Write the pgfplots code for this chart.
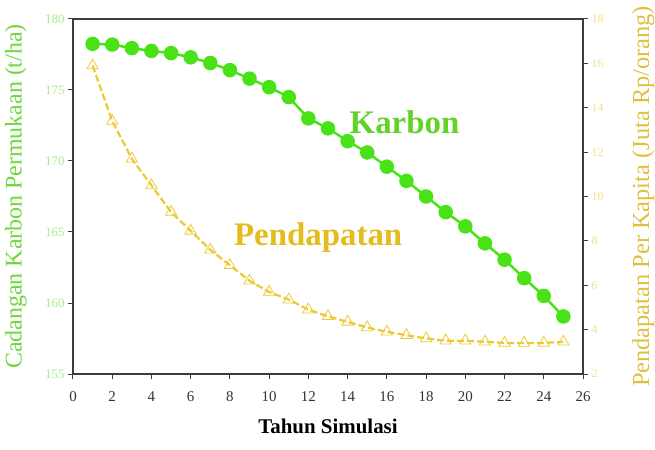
\documentclass[border=0pt]{standalone}
\usepackage{fontspec}
\setmainfont{Liberation Serif}
\usepackage{pgfplots}
\pgfplotsset{compat=1.18}
\definecolor{kgreen}{RGB}{72,226,22}
\definecolor{ktext}{RGB}{96,210,40}
\definecolor{klab}{RGB}{110,215,60}
\definecolor{ktick}{RGB}{170,235,140}
\definecolor{pyel}{RGB}{236,202,50}
\definecolor{ptext}{RGB}{228,188,30}
\definecolor{plab}{RGB}{222,192,60}
\definecolor{ptick}{RGB}{240,225,140}
\definecolor{axgray}{RGB}{60,60,60}
\pgfplotstableread{
x y
1 178.25
2 178.2
3 177.95
4 177.75
5 177.6
6 177.3
7 176.9
8 176.4
9 175.8
10 175.2
11 174.5
12 173.0
13 172.3
14 171.4
15 170.6
16 169.6
17 168.6
18 167.5
19 166.4
20 165.4
21 164.2
22 163.05
23 161.75
24 160.5
25 159.05
}\karbon
\pgfplotstableread{
x y
1 15.9
2 13.4
3 11.7
4 10.5
5 9.3
6 8.45
7 7.6
8 6.9
9 6.2
10 5.7
11 5.35
12 4.9
13 4.6
14 4.35
15 4.1
16 3.9
17 3.75
18 3.6
19 3.5
20 3.5
21 3.45
22 3.4
23 3.4
24 3.4
25 3.45
}\pendapatan
\begin{document}
\begin{tikzpicture}
\begin{axis}[
  scale only axis, width=510bp, height=355bp,
  at={(0,0)}, anchor=south west,
  xmin=0, xmax=26, ymin=155, ymax=180,
  xtick={0,2,...,26}, ytick={155,160,...,180},
  xtick pos=bottom, ytick pos=left,
  tick align=outside, major tick length=5bp,
  axis line style={axgray, line width=1.3bp},
  tick style={axgray, line width=1bp},
  /pgf/number format/assume math mode=true,
  x tick label style={font=\fontsize{15}{16}\selectfont, black!80, yshift=-9bp},
  y tick label style={font=\fontsize{13}{14}\selectfont, ktick},
  xlabel={Tahun Simulasi},
  xlabel style={font=\fontsize{21}{24}\selectfont\bfseries, at={(axis description cs:0.5,-0.147)}, anchor=center},
  ylabel={Cadangan Karbon Permukaan (t/ha)},
  ylabel style={font=\fontsize{24}{26}\selectfont, klab, at={(axis description cs:-0.112,0.5)}, anchor=center},
  clip=false,
]
\addplot[kgreen, line width=2.5bp, mark=*, mark size=6bp, mark options={fill=kgreen, draw=kgreen}] table[x=x,y=y]{\karbon};
\node[ktext, font=\fontsize{33}{36}\selectfont\bfseries] at (axis cs:16.9,172.7) {Karbon};
\node[ptext, font=\fontsize{33}{36}\selectfont\bfseries] at (axis cs:12.5,164.6) {Pendapatan};
\end{axis}
\begin{axis}[
  scale only axis, width=510bp, height=355bp,
  at={(0,0)}, anchor=south west,
  xmin=0, xmax=26, ymin=2, ymax=18,
  ytick={2,4,...,18},
  axis x line=none, axis y line*=right,
  tick align=outside, major tick length=5bp,
  axis line style={axgray, line width=1.3bp},
  tick style={axgray, line width=1bp},
  /pgf/number format/assume math mode=true,
  y tick label style={font=\fontsize{12}{13}\selectfont, ptick},
  ylabel={Pendapatan Per Kapita (Juta Rp/orang)},
  ylabel style={font=\fontsize{24.5}{26}\selectfont, plab, at={(axis description cs:1.118,0.5)}, anchor=center},
  clip=false,
]
\addplot[pyel, line width=2.2bp, dash pattern=on 7bp off 3bp, mark=triangle, mark size=6.5bp, mark options={solid, draw=pyel, fill=white, line width=0.8bp}] table[x=x,y=y]{\pendapatan};
\end{axis}
\pgfresetboundingbox
\path (-73bp,-76bp) rectangle (582bp,374bp);
\end{tikzpicture}
\end{document}
